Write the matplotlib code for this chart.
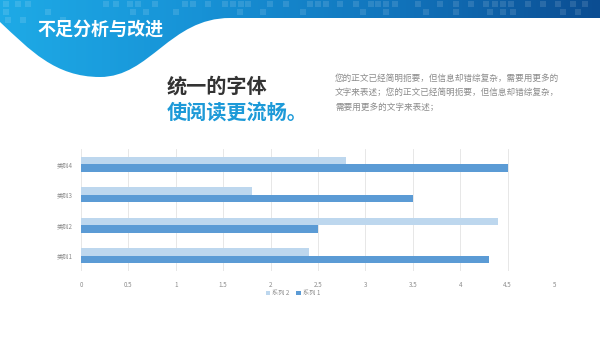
"""Slide-style horizontal bar chart: 不足分析与改进."""

import matplotlib

matplotlib.use("Agg")
import matplotlib.pyplot as plt
import numpy as np
from matplotlib.colors import LinearSegmentedColormap
from matplotlib.patches import PathPatch, Rectangle
from matplotlib.path import Path

plt.rcParams["font.family"] = ["Noto Sans CJK SC", "DejaVu Sans"]

# data
categories = ["类别1", "类别2", "类别3", "类别4"]
series1 = [4.3, 2.5, 3.5, 4.5]
series2 = [2.4, 4.4, 1.8, 2.8]
x_ticks = [0, 0.5, 1, 1.5, 2, 2.5, 3, 3.5, 4, 4.5, 5]
x_tick_labels = ["0", "0.5", "1", "1.5", "2", "2.5", "3", "3.5", "4", "4.5", "5"]

header_title = "不足分析与改进"
headline_1 = "统一的字体"
headline_2 = "使阅读更流畅。"
body_lines = [
    "您的正文已经简明扼要，但信息却错综复杂，需要用更多的",
    "文字来表述；您的正文已经简明扼要，但信息却错综复杂，",
    "需要用更多的文字来表述；",
]

W, H = 600, 338
fig = plt.figure(figsize=(W / 100, H / 100), dpi=100)
fig.patch.set_facecolor("white")

# ---- decoration layer in pixel coords ----
deco = fig.add_axes((0, 0, 1, 1))
deco.set_xlim(0, W)
deco.set_ylim(H, 0)
deco.axis("off")

verts = [
    (0, 0), (W, 0), (W, 18), (230, 18),
    (170, 18), (150, 77), (100, 77),
    (55, 77), (30, 50), (0, 22),
    (0, 0),
]
codes = [
    Path.MOVETO, Path.LINETO, Path.LINETO, Path.LINETO,
    Path.CURVE4, Path.CURVE4, Path.CURVE4,
    Path.CURVE4, Path.CURVE4, Path.CURVE4,
    Path.CLOSEPOLY,
]
shape = PathPatch(Path(verts, codes), facecolor="none", edgecolor="none")
deco.add_patch(shape)

cmap = LinearSegmentedColormap.from_list(
    "band", ["#1eaae6", "#1792d6", "#1173bb", "#0b4d92"]
)
grad = np.linspace(0, 1, 300).reshape(1, -1)
img = deco.imshow(grad, cmap=cmap, extent=(0, W, 80, 0), aspect="auto", zorder=1)
img.set_clip_path(shape)

# faint pixel squares along the top band
row_a = [3, 15, 25, 103, 113, 127, 135, 152, 182, 190, 205, 222, 230, 238, 245,
         267, 283, 307, 315, 323, 337, 353, 368, 375, 383, 392, 415, 437, 453,
         468, 483, 492, 500, 508, 525, 540, 555, 570, 582]
row_b = [3, 45, 130, 143, 173, 237, 260, 300, 360, 383, 423, 453, 487, 500, 510,
         560, 575]
row_c = [5, 20, 60]
for xs, y0 in ((row_a, 1), (row_b, 9), (row_c, 17)):
    for x0 in xs:
        sq = Rectangle((x0, y0), 6, 6, facecolor="white", alpha=0.12,
                       edgecolor="none", zorder=2)
        deco.add_patch(sq)
        sq.set_clip_path(shape)

deco.text(37, 29, header_title, color="white", fontsize=13, fontweight="bold",
          va="center", ha="left", zorder=3)
deco.text(167, 86, headline_1, color="#333333", fontsize=14.5, fontweight="bold",
          va="center", ha="left")
deco.text(167, 112, headline_2, color="#1d9ad8", fontsize=14.5, fontweight="bold",
          va="center", ha="left")
for i, line in enumerate(body_lines):
    deco.text(335, 78 + i * 14.5, line, color="#8a8a8a", fontsize=6.2,
              va="center", ha="left")

# ---- chart ----
ax = fig.add_axes((81 / W, 1 - 271 / H, 474 / W, 122 / H))
y = np.arange(len(categories))
bar_h = 0.25
ax.barh(y - bar_h / 2, series1, height=bar_h, color="#5b9bd5", label="系列 1",
        zorder=3)
ax.barh(y + bar_h / 2, series2, height=bar_h, color="#bdd7ee", label="系列 2",
        zorder=3)
ax.set_xlim(0, 5)
ax.set_ylim(-0.5, len(categories) - 0.5)
ax.set_xticks(x_ticks)
ax.set_xticklabels(x_tick_labels)
ax.set_yticks(y)
ax.set_yticklabels(categories)
ax.tick_params(axis="both", length=0, labelsize=4.5, labelcolor="#8c8c8c")
ax.tick_params(axis="x", pad=7)
ax.tick_params(axis="y", pad=6)
ax.grid(axis="x", color="#e3e3e3", linewidth=0.6, zorder=0)
for s in ax.spines.values():
    s.set_visible(False)
ax.set_facecolor("none")

handles, labels = ax.get_legend_handles_labels()
fig.legend(handles[::-1], labels[::-1], loc="center",
           bbox_to_anchor=(293 / W, 1 - 293 / H), ncol=2, frameon=False,
           fontsize=4.5, labelcolor="#8c8c8c", handlelength=0.7,
           handleheight=0.7, handletextpad=0.4, columnspacing=1.0)

fig.savefig("out.png", dpi=100)
